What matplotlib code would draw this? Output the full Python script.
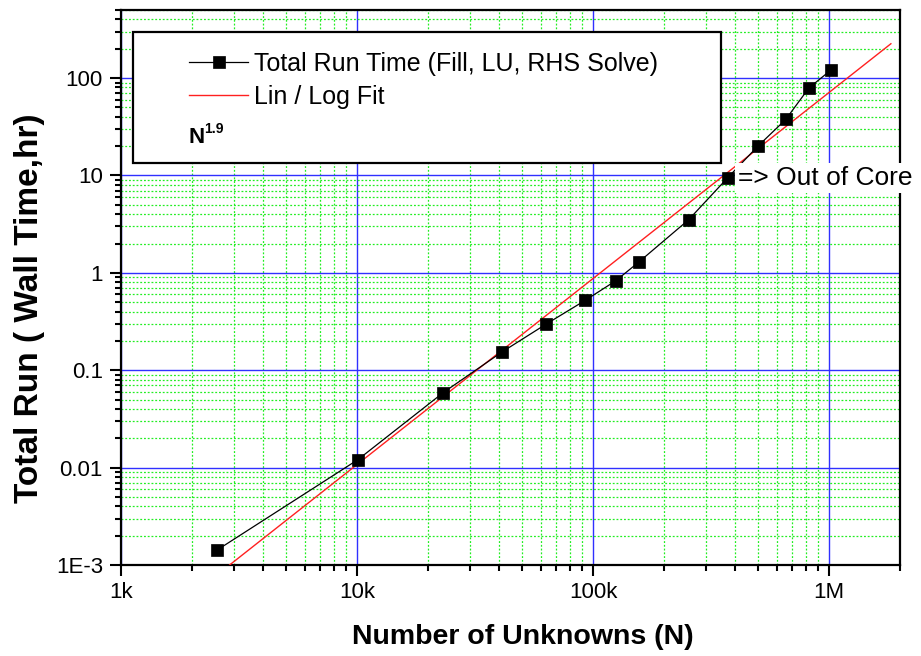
import matplotlib.pyplot as plt
from matplotlib.patches import Rectangle
from matplotlib.ticker import FixedLocator, FixedFormatter, LogLocator, NullFormatter

plt.rcParams['font.family'] = ['Liberation Sans', 'DejaVu Sans']

# Measured runs: problem size vs total wall time (hours)
unknowns = [2560, 10100, 23200, 41000, 63100, 92500, 125000, 157000,
            254000, 372000, 499000, 656000, 822000, 1020000]
run_hours = [0.00143, 0.0121, 0.0589, 0.153, 0.296, 0.52, 0.83, 1.3,
             3.5, 9.45, 19.9, 37.6, 79, 121]

# Lin / log fit endpoints (slope ~1.9 in log-log)
fit_n = [2884, 1830000]
fit_hours = [0.001, 225]

x_ticks = [1e3, 1e4, 1e5, 1e6]
x_labels = ["1k", "10k", "100k", "1M"]
y_ticks = [1e-3, 1e-2, 1e-1, 1, 10, 100]
y_labels = ["1E-3", "0.01", "0.1", "1", "10", "100"]

fig = plt.figure(figsize=(9.21, 6.56), dpi=100)
ax = fig.add_axes([0.1314, 0.1387, 0.8458, 0.8461])

ax.set_xscale("log")
ax.set_yscale("log")
ax.set_xlim(1e3, 2e6)
ax.set_ylim(1e-3, 500)

# grid: blue majors, green dotted minors
ax.grid(True, which="major", color="#3030ff", linestyle="-", linewidth=1.0, zorder=0)
ax.grid(True, which="minor", color="#22ee22", linestyle=(0, (1.5, 1.5)), linewidth=0.9, zorder=0)
ax.set_axisbelow(True)

ax.plot(fit_n, fit_hours, color="#ff2020", linewidth=1.0, label="Lin / Log Fit", zorder=3)
ax.plot(unknowns, run_hours, color="black", linewidth=0.9, marker="s",
        markersize=8.5, markerfacecolor="black", markeredgecolor="black",
        markeredgewidth=0.5, label="Total Run Time (Fill, LU, RHS Solve)", zorder=4)

ax.xaxis.set_major_locator(FixedLocator(x_ticks))
ax.xaxis.set_major_formatter(FixedFormatter(x_labels))
ax.yaxis.set_major_locator(FixedLocator(y_ticks))
ax.yaxis.set_major_formatter(FixedFormatter(y_labels))
ax.xaxis.set_minor_locator(LogLocator(base=10, subs=range(2, 10), numticks=20))
ax.yaxis.set_minor_locator(LogLocator(base=10, subs=range(2, 10), numticks=20))
ax.xaxis.set_minor_formatter(NullFormatter())
ax.yaxis.set_minor_formatter(NullFormatter())

ax.tick_params(axis="both", which="major", direction="out", length=8, width=1.5,
               labelsize=16, pad=5)
ax.tick_params(axis="both", which="minor", direction="out", length=4.5, width=1.5)
ax.tick_params(axis="x", which="major", pad=4.5)
for sp in ax.spines.values():
    sp.set_linewidth(1.6)

ax.set_xlabel("Number of Unknowns (N)", fontsize=20.5, fontweight="bold")
ax.set_ylabel("Total Run ( Wall Time,hr)", fontsize=24, fontweight="bold")
ax.xaxis.set_label_coords(0.516, -0.106)
ax.yaxis.set_label_coords(-0.097, 0.463)

# legend box with the fitted exponent
ax.add_patch(Rectangle((0.0154, 0.724), 0.755, 0.236, transform=ax.transAxes,
                       facecolor="white", edgecolor="black", linewidth=1.6, zorder=5))
handles, labels = ax.get_legend_handles_labels()
leg = ax.legend(handles[::-1], labels[::-1], loc="upper left",
                bbox_to_anchor=(0.0745, 0.942), frameon=False, fontsize=18,
                handlelength=2.36, handletextpad=0.24, labelspacing=0.36,
                borderaxespad=0)
leg.set_zorder(6)
ax.text(0.086, 0.760, "N", transform=ax.transAxes, fontsize=16,
        fontweight="bold", va="baseline", zorder=6)
ax.text(0.1065, 0.778, "1.9", transform=ax.transAxes, fontsize=10,
        fontweight="bold", va="baseline", zorder=6)

ax.text(4.1e5, 9.5, "=> Out of Core", fontsize=19, va="center", ha="left",
        bbox=dict(facecolor="white", edgecolor="none", pad=2), zorder=5, clip_on=False)

fig.savefig("out.png", dpi=100)
